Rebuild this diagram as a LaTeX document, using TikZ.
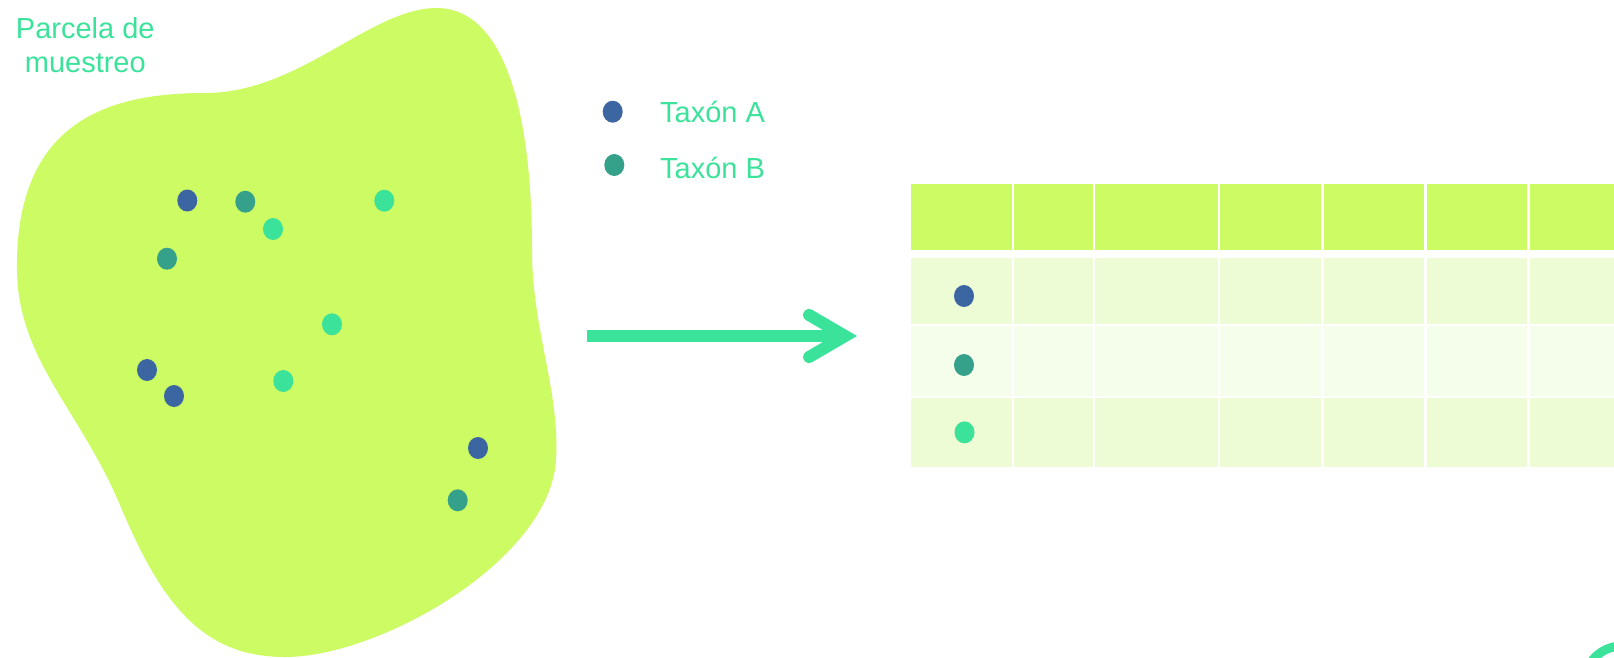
\documentclass[tikz,border=0pt]{standalone}
\usepackage{fontspec}
\setmainfont{Liberation Sans}
\usepackage{tikz}
\usetikzlibrary{arrows.meta,shapes.geometric,positioning}
\definecolor{parcela}{HTML}{CDFB63}
\definecolor{filaclara}{HTML}{EDFCD5}
\definecolor{filablanca}{HTML}{F5FDEB}
\definecolor{menta}{HTML}{3BE29A}
\definecolor{taxonA}{HTML}{3B66A2}
\definecolor{taxonB}{HTML}{36A18A}

\begin{document}
\begin{tikzpicture}[x=1pt, y=-1pt]
\tikzstyle{taxon}=[ellipse, inner sep=0, minimum width=20pt, minimum height=22pt]
\tikzstyle{cell}=[rectangle, inner sep=0, outer sep=0]
\tikzstyle{head}=[cell, fill=parcela, minimum height=66pt]
\tikzstyle{rowa}=[cell, fill=filaclara, minimum height=66pt]
\tikzstyle{rowb}=[cell, fill=filablanca, minimum height=69.4pt]
\tikzstyle{rowc}=[cell, fill=filaclara, minimum height=68.7pt]
\tikzstyle{txt}=[text=menta, font=\fontsize{29}{34.4}\selectfont, inner sep=0]
\tikzstyle{connect}=[-{Straight Barb[length=36pt, width=42pt, line cap=round, line join=miter]}, line width=12pt, draw=menta]

  \useasboundingbox (0,0) rectangle (1614,657);
  \clip (0,0) rectangle (1614,657);

  % parcela
  \fill[parcela] (205,93) .. controls (300,93) and (370,8) .. (437,8)
    .. controls (500,8) and (532,100) .. (532,250)
    .. controls (532,330) and (560,390) .. (556,460)
    .. controls (550,560) and (380,657) .. (285,657)
    .. controls (200,657) and (160,600) .. (120,505)
    .. controls (80,410) and (18,360) .. (17,270)
    .. controls (15,120) and (110,93) .. (205,93) -- cycle;

  \node[txt, align=center, anchor=north] (titulo) at (85.3,17.3) {Parcela de\\muestreo};

  \node[taxon, fill=taxonA] (a1) at (187.3,200.5) {};
  \node[taxon, fill=taxonA] (a2) at (147,370)     {};
  \node[taxon, fill=taxonA] (a3) at (174,396)     {};
  \node[taxon, fill=taxonA] (a4) at (478,448)     {};
  \node[taxon, fill=taxonB] (b1) at (245.3,201.7) {};
  \node[taxon, fill=taxonB] (b2) at (167,258.7)   {};
  \node[taxon, fill=taxonB] (b3) at (457.7,500.3) {};
  \node[taxon, fill=menta]  (c1) at (273,229)     {};
  \node[taxon, fill=menta]  (c2) at (384.3,200.7) {};
  \node[taxon, fill=menta]  (c3) at (332,324.3)   {};
  \node[taxon, fill=menta]  (c4) at (283.3,381)   {};

  % leyenda
  \node[taxon, fill=taxonA] (legA) at (612.7,111.7) {};
  \node[taxon, fill=taxonB] (legB) at (614.3,165)   {};
  \node[txt, anchor=base west] (txtA) at (660,122.7) {Taxón A};
  \node[txt, anchor=base west] (txtB) at (660,178.3) {Taxón B};

  \coordinate (desde) at (587,336);
  \coordinate (hasta) at (857,336);
  \draw[connect] (desde) -- (hasta);

  % tabla
  \node[head, minimum width=101pt, anchor=north west] (h1) at (911,184.3) {};
  \node[head, minimum width=78.3pt,  right=2.3pt of h1] (h2) {};
  \node[head, minimum width=123pt,   right=2.3pt of h2] (h3) {};
  \node[head, minimum width=101pt,   right=2.3pt of h3] (h4) {};
  \node[head, minimum width=100.7pt, right=2.3pt of h4] (h5) {};
  \node[head, minimum width=100.7pt, right=2.3pt of h5] (h6) {};
  \node[head, minimum width=101pt,   right=2.3pt of h6] (h7) {};

  \node[rowa, minimum width=101pt,   below=7.7pt of h1] (ra1) {};
  \node[rowa, minimum width=78.3pt,  below=7.7pt of h2] (ra2) {};
  \node[rowa, minimum width=123pt,   below=7.7pt of h3] (ra3) {};
  \node[rowa, minimum width=101pt,   below=7.7pt of h4] (ra4) {};
  \node[rowa, minimum width=100.7pt, below=7.7pt of h5] (ra5) {};
  \node[rowa, minimum width=100.7pt, below=7.7pt of h6] (ra6) {};
  \node[rowa, minimum width=101pt,   below=7.7pt of h7] (ra7) {};

  \node[rowb, minimum width=101pt,   below=2.3pt of ra1] (rb1) {};
  \node[rowb, minimum width=78.3pt,  below=2.3pt of ra2] (rb2) {};
  \node[rowb, minimum width=123pt,   below=2.3pt of ra3] (rb3) {};
  \node[rowb, minimum width=101pt,   below=2.3pt of ra4] (rb4) {};
  \node[rowb, minimum width=100.7pt, below=2.3pt of ra5] (rb5) {};
  \node[rowb, minimum width=100.7pt, below=2.3pt of ra6] (rb6) {};
  \node[rowb, minimum width=101pt,   below=2.3pt of ra7] (rb7) {};

  \node[rowc, minimum width=101pt,   below=2.3pt of rb1] (rc1) {};
  \node[rowc, minimum width=78.3pt,  below=2.3pt of rb2] (rc2) {};
  \node[rowc, minimum width=123pt,   below=2.3pt of rb3] (rc3) {};
  \node[rowc, minimum width=101pt,   below=2.3pt of rb4] (rc4) {};
  \node[rowc, minimum width=100.7pt, below=2.3pt of rb5] (rc5) {};
  \node[rowc, minimum width=100.7pt, below=2.3pt of rb6] (rc6) {};
  \node[rowc, minimum width=101pt,   below=2.3pt of rb7] (rc7) {};

  \node[taxon, fill=taxonA] (filaA) at ([shift={(2.5,5)}]ra1.center) {};
  \node[taxon, fill=taxonB] (filaB) at ([shift={(2.5,4)}]rb1.center) {};
  \node[taxon, fill=menta]  (filaC) at ([shift={(3,0)}]rc1.center)   {};

  % esquina
  \draw[menta, line width=9pt] (1622,684) circle[radius=38];

\end{tikzpicture}
\end{document}
